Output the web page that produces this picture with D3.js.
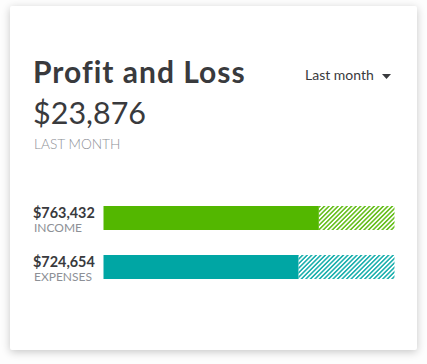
<!DOCTYPE html>
<html>
<head>
<meta charset="utf-8">
<script src="https://cdn.jsdelivr.net/npm/d3@7"></script>
<style>
  html, body { margin: 0; padding: 0; background: #fdfdfd; }
  body { width: 427px; height: 364px; overflow: hidden; position: relative; }
  #card { position: absolute; left: 10px; top: 6px; width: 407px; height: 344px; background: #fff;
          box-shadow: 0 2px 8px rgba(0,0,0,0.22); border-radius: 2px; }
  svg { position: absolute; left: 0; top: 0; }
  text { font-family: Lato, "Open Sans", sans-serif; }
</style>
</head>
<body>
<div id="card"></div>
<script>
// ---- data ----
const title = "Profit and Loss";
const periodLabel = "Last month";
const netProfit = 23876;
const netLabel = "LAST MONTH";
const categories = ["INCOME", "EXPENSES"];
const amounts = [763432, 724654];
// share of each bar that is categorized (solid) vs still to review (hatched), in percent
const categorizedPct = [74, 67];
const colors = ["#53b700", "#00a6a4"];

const W = 427, H = 364;
const svg = d3.select("body").append("svg").attr("width", W).attr("height", H);

const fmt = d3.format("$,");

// hatch patterns
const defs = svg.append("defs");
colors.forEach((c, i) => {
  const p = defs.append("pattern")
    .attr("id", "hatch" + i)
    .attr("patternUnits", "userSpaceOnUse")
    .attr("width", 3.2).attr("height", 3.2)
    .attr("patternTransform", "rotate(45)");
  p.append("rect").attr("width", 3.2).attr("height", 3.2).attr("fill", "#fff");
  p.append("line").attr("x1", 0.8).attr("y1", 0).attr("x2", 0.8).attr("y2", 3.2)
    .attr("stroke", c).attr("stroke-width", 1.4);
});

// header
svg.append("text").attr("x", 33).attr("y", 83)
  .attr("font-size", 30).attr("font-weight", 700).attr("fill", "#393a3d")
  .attr("letter-spacing", 1)
  .text(title);
svg.append("text").attr("x", 305).attr("y", 80)
  .attr("font-size", 14).attr("fill", "#393a3d")
  .text(periodLabel);
svg.append("path").attr("d", "M382,74 L391,74 L386.5,79 Z").attr("fill", "#393a3d");

svg.append("text").attr("x", 33).attr("y", 124)
  .attr("font-size", 30.5).attr("fill", "#393a3d")
  .text(fmt(netProfit));
svg.append("text").attr("x", 34).attr("y", 149)
  .attr("font-size", 13.7).attr("fill", "#8d9096").attr("font-weight", 300)
  .text(netLabel);

// bars
const x = d3.scaleLinear().domain([0, 100]).range([103.5, 394.5]);
const y = d3.scaleBand().domain(categories).range([206, 279]).paddingInner(25 / 49).paddingOuter(0);
const bh = y.bandwidth();

const rows = svg.selectAll("g.row").data(categories).join("g").attr("class", "row");

rows.append("rect")
  .attr("x", (d, i) => x(categorizedPct[i]))
  .attr("y", d => y(d))
  .attr("width", (d, i) => x(100) - x(categorizedPct[i]))
  .attr("height", bh)
  .attr("fill", (d, i) => `url(#hatch${i})`);

rows.append("rect")
  .attr("x", x(0))
  .attr("y", d => y(d))
  .attr("width", (d, i) => x(categorizedPct[i]) - x(0))
  .attr("height", bh)
  .attr("fill", (d, i) => colors[i]);

rows.append("text")
  .attr("x", 33).attr("y", d => y(d) + 11.5)
  .attr("font-size", 14.4).attr("font-weight", 700).attr("fill", "#393a3d")
  .text((d, i) => fmt(amounts[i]));

rows.append("text")
  .attr("x", 34).attr("y", d => y(d) + 26)
  .attr("font-size", 12).attr("fill", "#8d9096")
  .text(d => d);
</script>
</body>
</html>
